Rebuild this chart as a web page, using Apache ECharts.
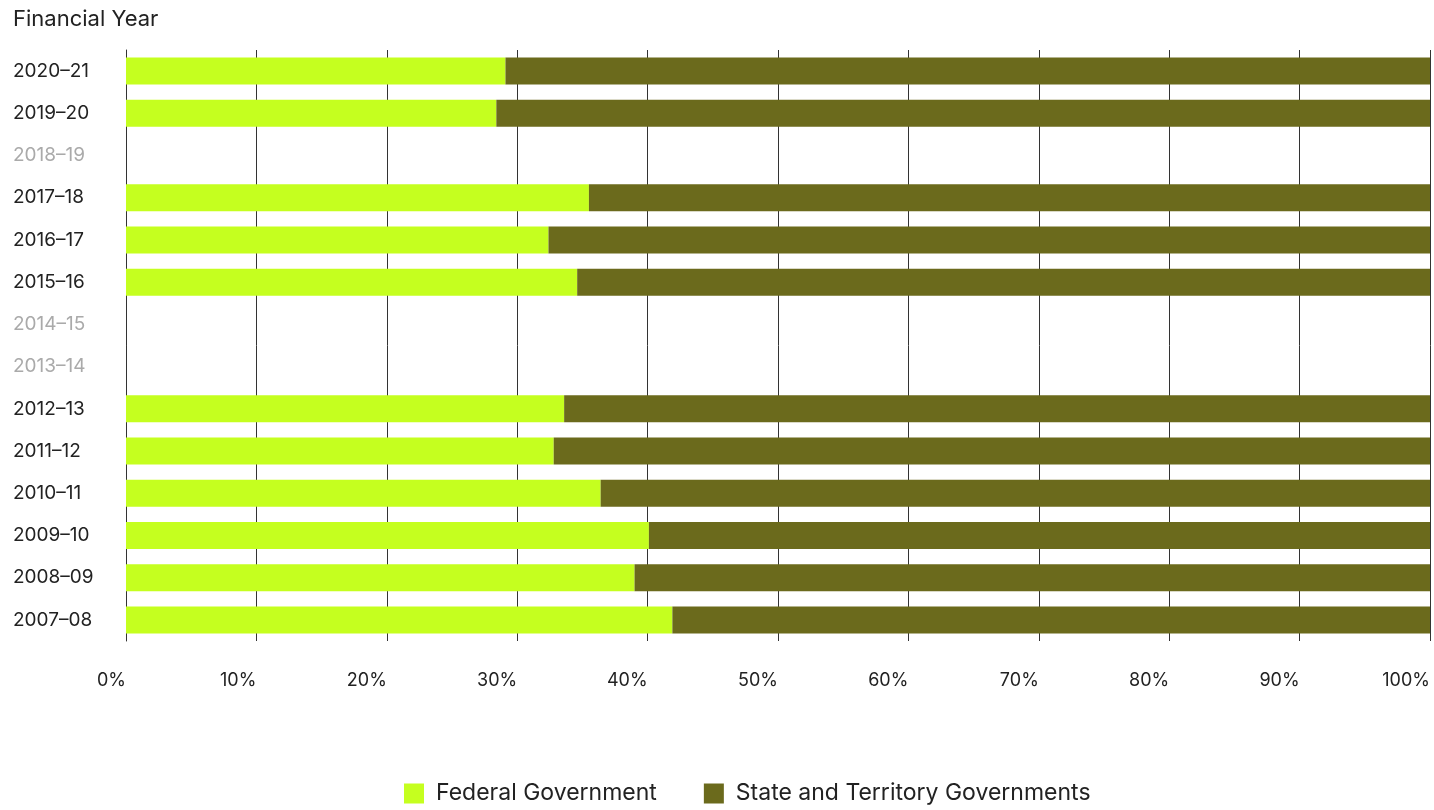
<!DOCTYPE html>
<html><head><meta charset="utf-8">
<script src="https://cdn.jsdelivr.net/npm/echarts@6/dist/echarts.min.js"></script>
<style>html,body{margin:0;padding:0;background:#fff}#c{width:1434px;height:810px}</style>
</head><body><div id="c"></div>
<script>
const categories = ['2007–08','2008–09','2009–10','2010–11','2011–12','2012–13','2013–14','2014–15','2015–16','2016–17','2017–18','2018–19','2019–20','2020–21'];
const federal = [41.9, 39.0, 40.1, 36.4, 32.8, 33.6, null, null, 34.6, 32.4, 35.5, null, 28.4, 29.1];
const stateTerritory = [58.1, 61.0, 59.9, 63.6, 67.2, 66.4, null, null, 65.4, 67.6, 64.5, null, 71.6, 70.9];
const xTicks = [0,10,20,30,40,50,60,70,80,90,100];

const FONT = 'Inter, "Noto Sans", sans-serif';
const chart = echarts.init(document.getElementById('c'), null, {renderer:'canvas'});
chart.setOption({
  animation:false,
  textStyle:{fontFamily:FONT},
  title:{text:'Financial Year', left:13, top:8, padding:0, textStyle:{fontFamily:FONT, fontSize:22, fontWeight:'normal', color:'#222'}},
  legend:{left:404, top:782, padding:0, icon:'rect', itemWidth:20, itemHeight:20, itemGap:47,
    textStyle:{fontFamily:FONT, fontSize:23, color:'#222', padding:[0,0,0,7]}},
  grid:{left:126, right:4, top:50, bottom:169, containLabel:false},
  xAxis:{type:'value', min:0, max:100, interval:10,
    axisLine:{show:false}, axisTick:{show:false},
    axisLabel:{formatter: v => xTicks.includes(v) ? v + '%' : '', align:'right', margin:31, fontSize:18, color:'#222', fontFamily:FONT},
    splitLine:{show:true, lineStyle:{color:'#333', width:1}}},
  yAxis:{type:'category', data:categories,
    axisLine:{show:true, lineStyle:{color:'#333', width:1}}, axisTick:{show:false},
    axisLabel:{align:'left', margin:113, fontSize:19, fontFamily:FONT,
      color:(v, i) => federal[i] == null ? '#aaa' : '#222'}},
  series:[
    {name:'Federal Government', type:'bar', stack:'t', data:federal, barWidth:27,
      itemStyle:{color:'#c5ff1f'}},
    {name:'State and Territory Governments', type:'bar', stack:'t', data:stateTerritory, barWidth:27,
      itemStyle:{color:'#6b6a1c'}}
  ]
});
</script></body></html>
